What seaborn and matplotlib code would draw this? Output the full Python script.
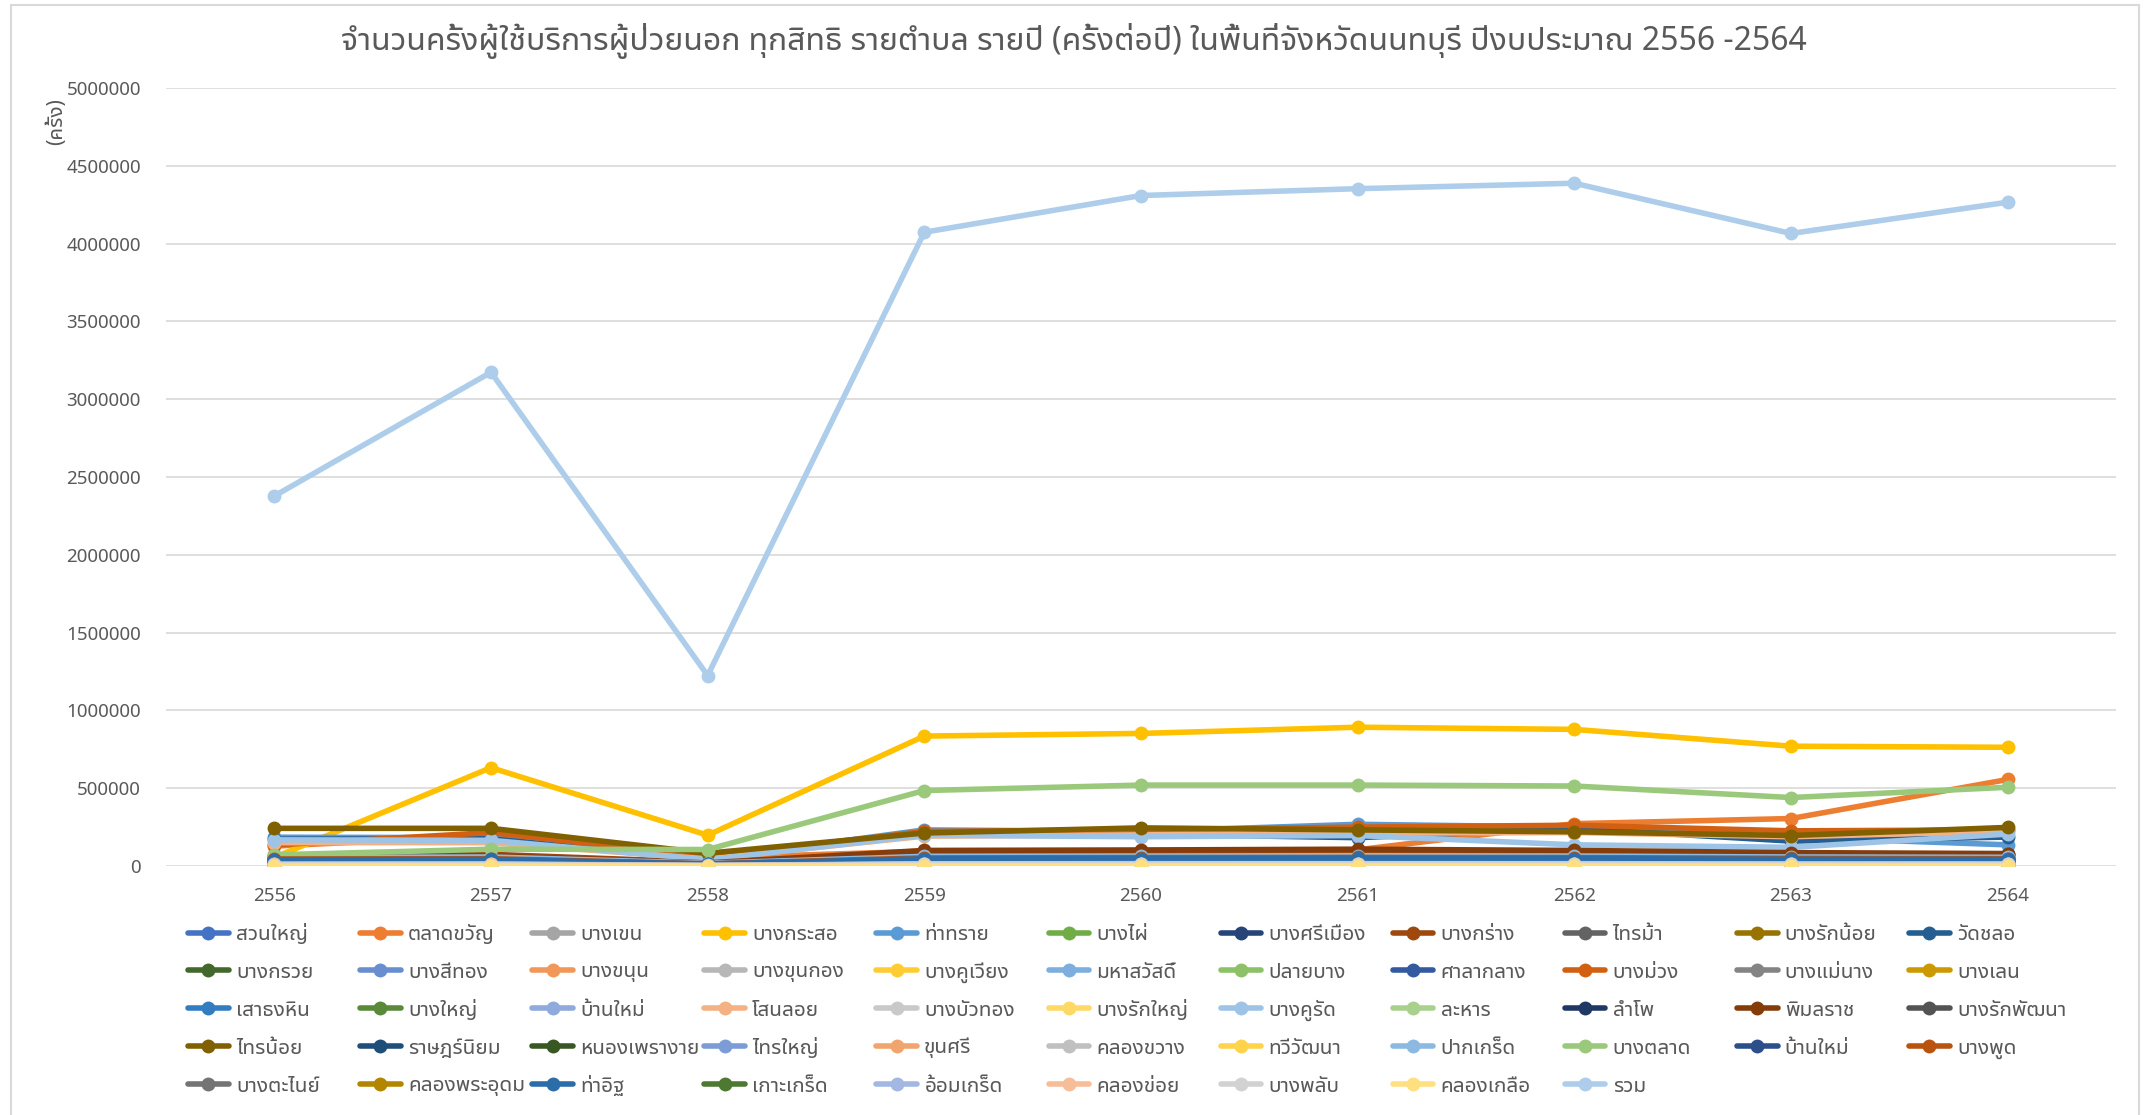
import colorsys
import matplotlib
matplotlib.use("Agg")
import matplotlib.pyplot as plt
import matplotlib.colors as mcolors
from matplotlib import font_manager
from matplotlib.ft2font import FT2Font
from matplotlib.patches import Rectangle
from matplotlib.ticker import MultipleLocator, FuncFormatter
import seaborn as sns

# ---------------- data ----------------
years = [2556, 2557, 2558, 2559, 2560, 2561, 2562, 2563, 2564]

title = "จำนวนครั้งผู้ใช้บริการผู้ป่วยนอก ทุกสิทธิ รายตำบล รายปี (ครั้งต่อปี) ในพื้นที่จังหวัดนนทบุรี ปีงบประมาณ 2556 -2564"
y_label = "(ครั้ง)"

names = [
    "สวนใหญ่", "ตลาดขวัญ", "บางเขน", "บางกระสอ", "ท่าทราย", "บางไผ่", "บางศรีเมือง", "บางกร่าง", "ไทรม้า", "บางรักน้อย", "วัดชลอ",
    "บางกรวย", "บางสีทอง", "บางขนุน", "บางขุนกอง", "บางคูเวียง", "มหาสวัสดิ์", "ปลายบาง", "ศาลากลาง", "บางม่วง", "บางแม่นาง", "บางเลน",
    "เสาธงหิน", "บางใหญ่", "บ้านใหม่", "โสนลอย", "บางบัวทอง", "บางรักใหญ่", "บางคูรัด", "ละหาร", "ลำโพ", "พิมลราช", "บางรักพัฒนา",
    "ไทรน้อย", "ราษฎร์นิยม", "หนองเพรางาย", "ไทรใหญ่", "ขุนศรี", "คลองขวาง", "ทวีวัฒนา", "ปากเกร็ด", "บางตลาด", "บ้านใหม่", "บางพูด",
    "บางตะไนย์", "คลองพระอุดม", "ท่าอิฐ", "เกาะเกร็ด", "อ้อมเกร็ด", "คลองข่อย", "บางพลับ", "คลองเกลือ", "รวม",
]

suan_yai = [48000, 52000, 14000, 58000, 60000, 62000, 60000, 52000, 50000]
talat_khwan = [128000, 195000, 52000, 95000, 98000, 104000, 272000, 305000, 556000]
bang_khen = [32000, 35000, 10000, 40000, 42000, 44000, 42000, 38000, 36000]
bang_kraso = [55000, 632000, 198000, 835000, 852000, 892000, 878000, 770000, 763000]
tha_sai = [185000, 182000, 45000, 232000, 222000, 268000, 250000, 185000, 136000]
bang_phai = [26000, 28000, 9000, 31000, 32000, 34000, 33000, 29000, 28000]
bang_si_mueang = [42000, 44000, 13000, 49000, 51000, 53000, 51000, 46000, 45000]
bang_krang = [68000, 75000, 24000, 76000, 79000, 82000, 80000, 74000, 70000]
sai_ma = [52000, 54000, 16000, 60000, 62000, 64000, 63000, 62000, 76000]
bang_rak_noi = [30000, 31000, 10000, 36000, 38000, 39000, 38000, 34000, 35000]
wat_chalo = [172000, 175000, 38000, 215000, 205000, 182000, 242000, 160000, 186000]
bang_kruai = [45000, 46000, 15000, 52000, 54000, 55000, 53000, 48000, 47000]
bang_si_thong = [22000, 24000, 8000, 27000, 28000, 29000, 28000, 25000, 24000]
bang_khanun = [20000, 22000, 7000, 25000, 26000, 27000, 26000, 23000, 22000]
bang_khun_kong = [18000, 19000, 6000, 22000, 23000, 24000, 23000, 20000, 20000]
bang_khu_wiang = [24000, 25000, 8000, 29000, 30000, 31000, 30000, 27000, 26000]
maha_sawat = [15000, 16000, 5000, 18000, 19000, 20000, 19000, 17000, 16000]
plai_bang = [38000, 40000, 12000, 45000, 47000, 48000, 47000, 42000, 41000]
sala_klang = [20000, 21000, 7000, 24000, 25000, 26000, 25000, 22000, 22000]
bang_muang = [135000, 215000, 58000, 222000, 232000, 250000, 262000, 226000, 232000]
bang_mae_nang = [40000, 42000, 13000, 47000, 49000, 50000, 49000, 44000, 43000]
bang_len = [25000, 26000, 8000, 30000, 31000, 32000, 31000, 28000, 27000]
sao_thong_hin = [50000, 52000, 16000, 58000, 60000, 62000, 60000, 54000, 52000]
bang_yai = [22000, 23000, 7000, 26000, 27000, 28000, 27000, 24000, 23000]
ban_mai_bangyai = [30000, 31000, 10000, 35000, 36000, 37000, 36000, 32000, 31000]
sano_loi = [150000, 150000, 45000, 192000, 200000, 210000, 215000, 188000, 224000]
bang_bua_thong = [28000, 30000, 9000, 33000, 34000, 35000, 34000, 31000, 30000]
bang_rak_yai = [20000, 21000, 6000, 23000, 24000, 25000, 24000, 22000, 21000]
bang_khu_rat = [168000, 165000, 40000, 198000, 188000, 196000, 136000, 120000, 205000]
lahan = [18000, 19000, 6000, 21000, 22000, 23000, 22000, 20000, 19000]
lam_pho = [14000, 15000, 5000, 17000, 18000, 18000, 18000, 16000, 15000]
phimon_rat = [60000, 64000, 20000, 100000, 103000, 108000, 100000, 86000, 80000]
bang_rak_phatthana = [35000, 36000, 11000, 40000, 42000, 43000, 42000, 38000, 37000]
sai_noi = [242000, 242000, 82000, 212000, 245000, 232000, 220000, 196000, 248000]
rat_niyom = [25000, 26000, 8000, 29000, 30000, 31000, 30000, 27000, 26000]
nong_phrao_ngai = [20000, 21000, 7000, 24000, 25000, 25000, 24000, 22000, 21000]
sai_yai = [22000, 23000, 7000, 26000, 27000, 27000, 26000, 24000, 23000]
khun_si = [12000, 13000, 4000, 15000, 15000, 16000, 15000, 14000, 13000]
khlong_khwang = [14000, 15000, 5000, 17000, 17000, 18000, 17000, 15000, 15000]
thawi_watthana = [10000, 11000, 3000, 12000, 13000, 13000, 13000, 11000, 11000]
pak_kret = [55000, 58000, 18000, 62000, 64000, 66000, 64000, 58000, 56000]
bang_talat = [72000, 108000, 106000, 485000, 520000, 520000, 514000, 440000, 506000]
ban_mai_pakkret = [38000, 40000, 12000, 45000, 46000, 47000, 46000, 42000, 40000]
bang_phut = [45000, 47000, 14000, 52000, 54000, 55000, 54000, 49000, 47000]
bang_tanai = [20000, 21000, 7000, 24000, 25000, 26000, 25000, 23000, 22000]
khlong_phra_udom = [16000, 17000, 5000, 19000, 20000, 21000, 20000, 18000, 17000]
tha_it = [40000, 42000, 13000, 46000, 48000, 49000, 48000, 43000, 42000]
ko_kret = [8000, 8500, 3000, 9500, 10000, 10000, 10000, 9000, 8500]
om_kret = [12000, 13000, 4000, 14000, 15000, 15000, 15000, 13000, 13000]
khlong_khoi = [10000, 11000, 3000, 12000, 12000, 13000, 12000, 11000, 11000]
bang_phlap = [9000, 9500, 3000, 11000, 11000, 12000, 11000, 10000, 10000]
khlong_kluea = [0, 0, 0, 0, 0, 0, 0, 0, 0]
total = [2378000, 3173000, 1224000, 4073000, 4309000, 4353000, 4388000, 4065000, 4266000]

series_values = [
    suan_yai, talat_khwan, bang_khen, bang_kraso, tha_sai, bang_phai, bang_si_mueang, bang_krang, sai_ma, bang_rak_noi, wat_chalo,
    bang_kruai, bang_si_thong, bang_khanun, bang_khun_kong, bang_khu_wiang, maha_sawat, plai_bang, sala_klang, bang_muang, bang_mae_nang, bang_len,
    sao_thong_hin, bang_yai, ban_mai_bangyai, sano_loi, bang_bua_thong, bang_rak_yai, bang_khu_rat, lahan, lam_pho, phimon_rat, bang_rak_phatthana,
    sai_noi, rat_niyom, nong_phrao_ngai, sai_yai, khun_si, khlong_khwang, thawi_watthana, pak_kret, bang_talat, ban_mai_pakkret, bang_phut,
    bang_tanai, khlong_phra_udom, tha_it, ko_kret, om_kret, khlong_khoi, bang_phlap, khlong_kluea, total,
]

# ---------------- style ----------------
ACCENTS = ["#4472C4", "#ED7D31", "#A5A5A5", "#FFC000", "#5B9BD5", "#70AD47"]
LUM = [(1.0, 0.0), (0.6, 0.0), (0.8, 0.2), (0.8, 0.0), (0.6, 0.4), (0.5, 0.0), (0.7, 0.3), (0.7, 0.0), (0.5, 0.5)]


def office_color(i):
    r, g, b = mcolors.to_rgb(ACCENTS[i % 6])
    h, l, s = colorsys.rgb_to_hls(r, g, b)
    mod, off = LUM[(i // 6) % len(LUM)]
    l = min(1.0, l * mod + off)
    return colorsys.hls_to_rgb(h, l, s)


def find_thai_family():
    prefs = ["Leelawadee UI", "Tahoma", "Noto Sans Thai UI", "Noto Sans Thai", "Loma", "Garuda",
             "Sarabun", "Tlwg Typo", "Waree", "Umpush", "Norasi", "Kinnari", "Sawasdee", "Laksaman"]
    found = {}
    for f in font_manager.fontManager.ttflist:
        try:
            cmap = FT2Font(f.fname).get_charmap()
        except Exception:
            continue
        if 0x0E01 in cmap and 0x0E33 in cmap and 0x0E48 in cmap:
            found.setdefault(f.name, f.fname)
    for p in prefs:
        if p in found:
            return p
    if found:
        return sorted(found)[0]
    return None


sns.set_style("white")
thai = find_thai_family()
installed = {f.name for f in font_manager.fontManager.ttflist}
latin = ["Noto Sans"] if "Noto Sans" in installed else []
families = latin + ([thai] if thai else []) + ["DejaVu Sans"]
plt.rcParams["font.family"] = families

W, H = 2148, 1115
fig = plt.figure(figsize=(W / 100, H / 100), dpi=100)
fig.patch.set_facecolor("white")

ax_left, ax_right, ax_top, ax_bottom = 166, 2116, 88, 866
ax = fig.add_axes([ax_left / W, 1 - ax_bottom / H, (ax_right - ax_left) / W, (ax_bottom - ax_top) / H])

TXT = "#595959"
colors = [office_color(i) for i in range(len(names))]
handles = []
for i, (name, vals) in enumerate(zip(names, series_values)):
    sns.lineplot(x=years, y=vals, ax=ax, color=colors[i], linewidth=4.0, marker="o",
                 markersize=10, markeredgewidth=0, legend=False, sort=False, estimator=None)
    handles.append(ax.lines[-1])

ax.set_xlim(2555.5, 2564.5)
ax.set_ylim(0, 5000000)
ax.yaxis.set_major_locator(MultipleLocator(500000))
ax.yaxis.set_major_formatter(FuncFormatter(lambda v, p: f"{int(round(v))}"))
ax.set_xticks(years)
ax.set_xticklabels([str(y) for y in years])
ax.grid(axis="y", color="#D9D9D9", linewidth=1.2)
ax.set_axisbelow(True)
for sp in ax.spines.values():
    sp.set_visible(False)
ax.tick_params(axis="both", length=0, labelsize=13.5, labelcolor=TXT)
ax.tick_params(axis="y", pad=18)
ax.tick_params(axis="x", pad=15)
ax.set_xlabel("")
ax.set_ylabel("")

fig.text(1074 / W, 1 - 41 / H, title, ha="center", va="center", fontsize=23, color=TXT)
fig.text(57 / W, 1 - 122 / H, y_label, ha="center", va="center", rotation=90, fontsize=15,
         color=TXT, fontweight="bold")

# legend: 11 columns, row-major
row_y = [935, 972, 1010, 1048, 1086]
col_x0, col_dx = 188, 172.1
for i, name in enumerate(names):
    r, c = divmod(i, 11)
    fig.legend([handles[i]], [name], loc="center left",
               bbox_to_anchor=((col_x0 + c * col_dx) / W, 1 - row_y[r] / H),
               frameon=False, borderpad=0, borderaxespad=0, handlelength=1.95,
               handletextpad=0.35, fontsize=15, labelcolor=TXT)

# chart-area border
fig.add_artist(Rectangle((10.5 / W, -0.05), (2139 - 10.5) / W, 1.05 - 5 / H, transform=fig.transFigure,
                         fill=False, edgecolor="#D9D9D9", linewidth=1.5))

fig.savefig("out.png", dpi=100, facecolor="white")
